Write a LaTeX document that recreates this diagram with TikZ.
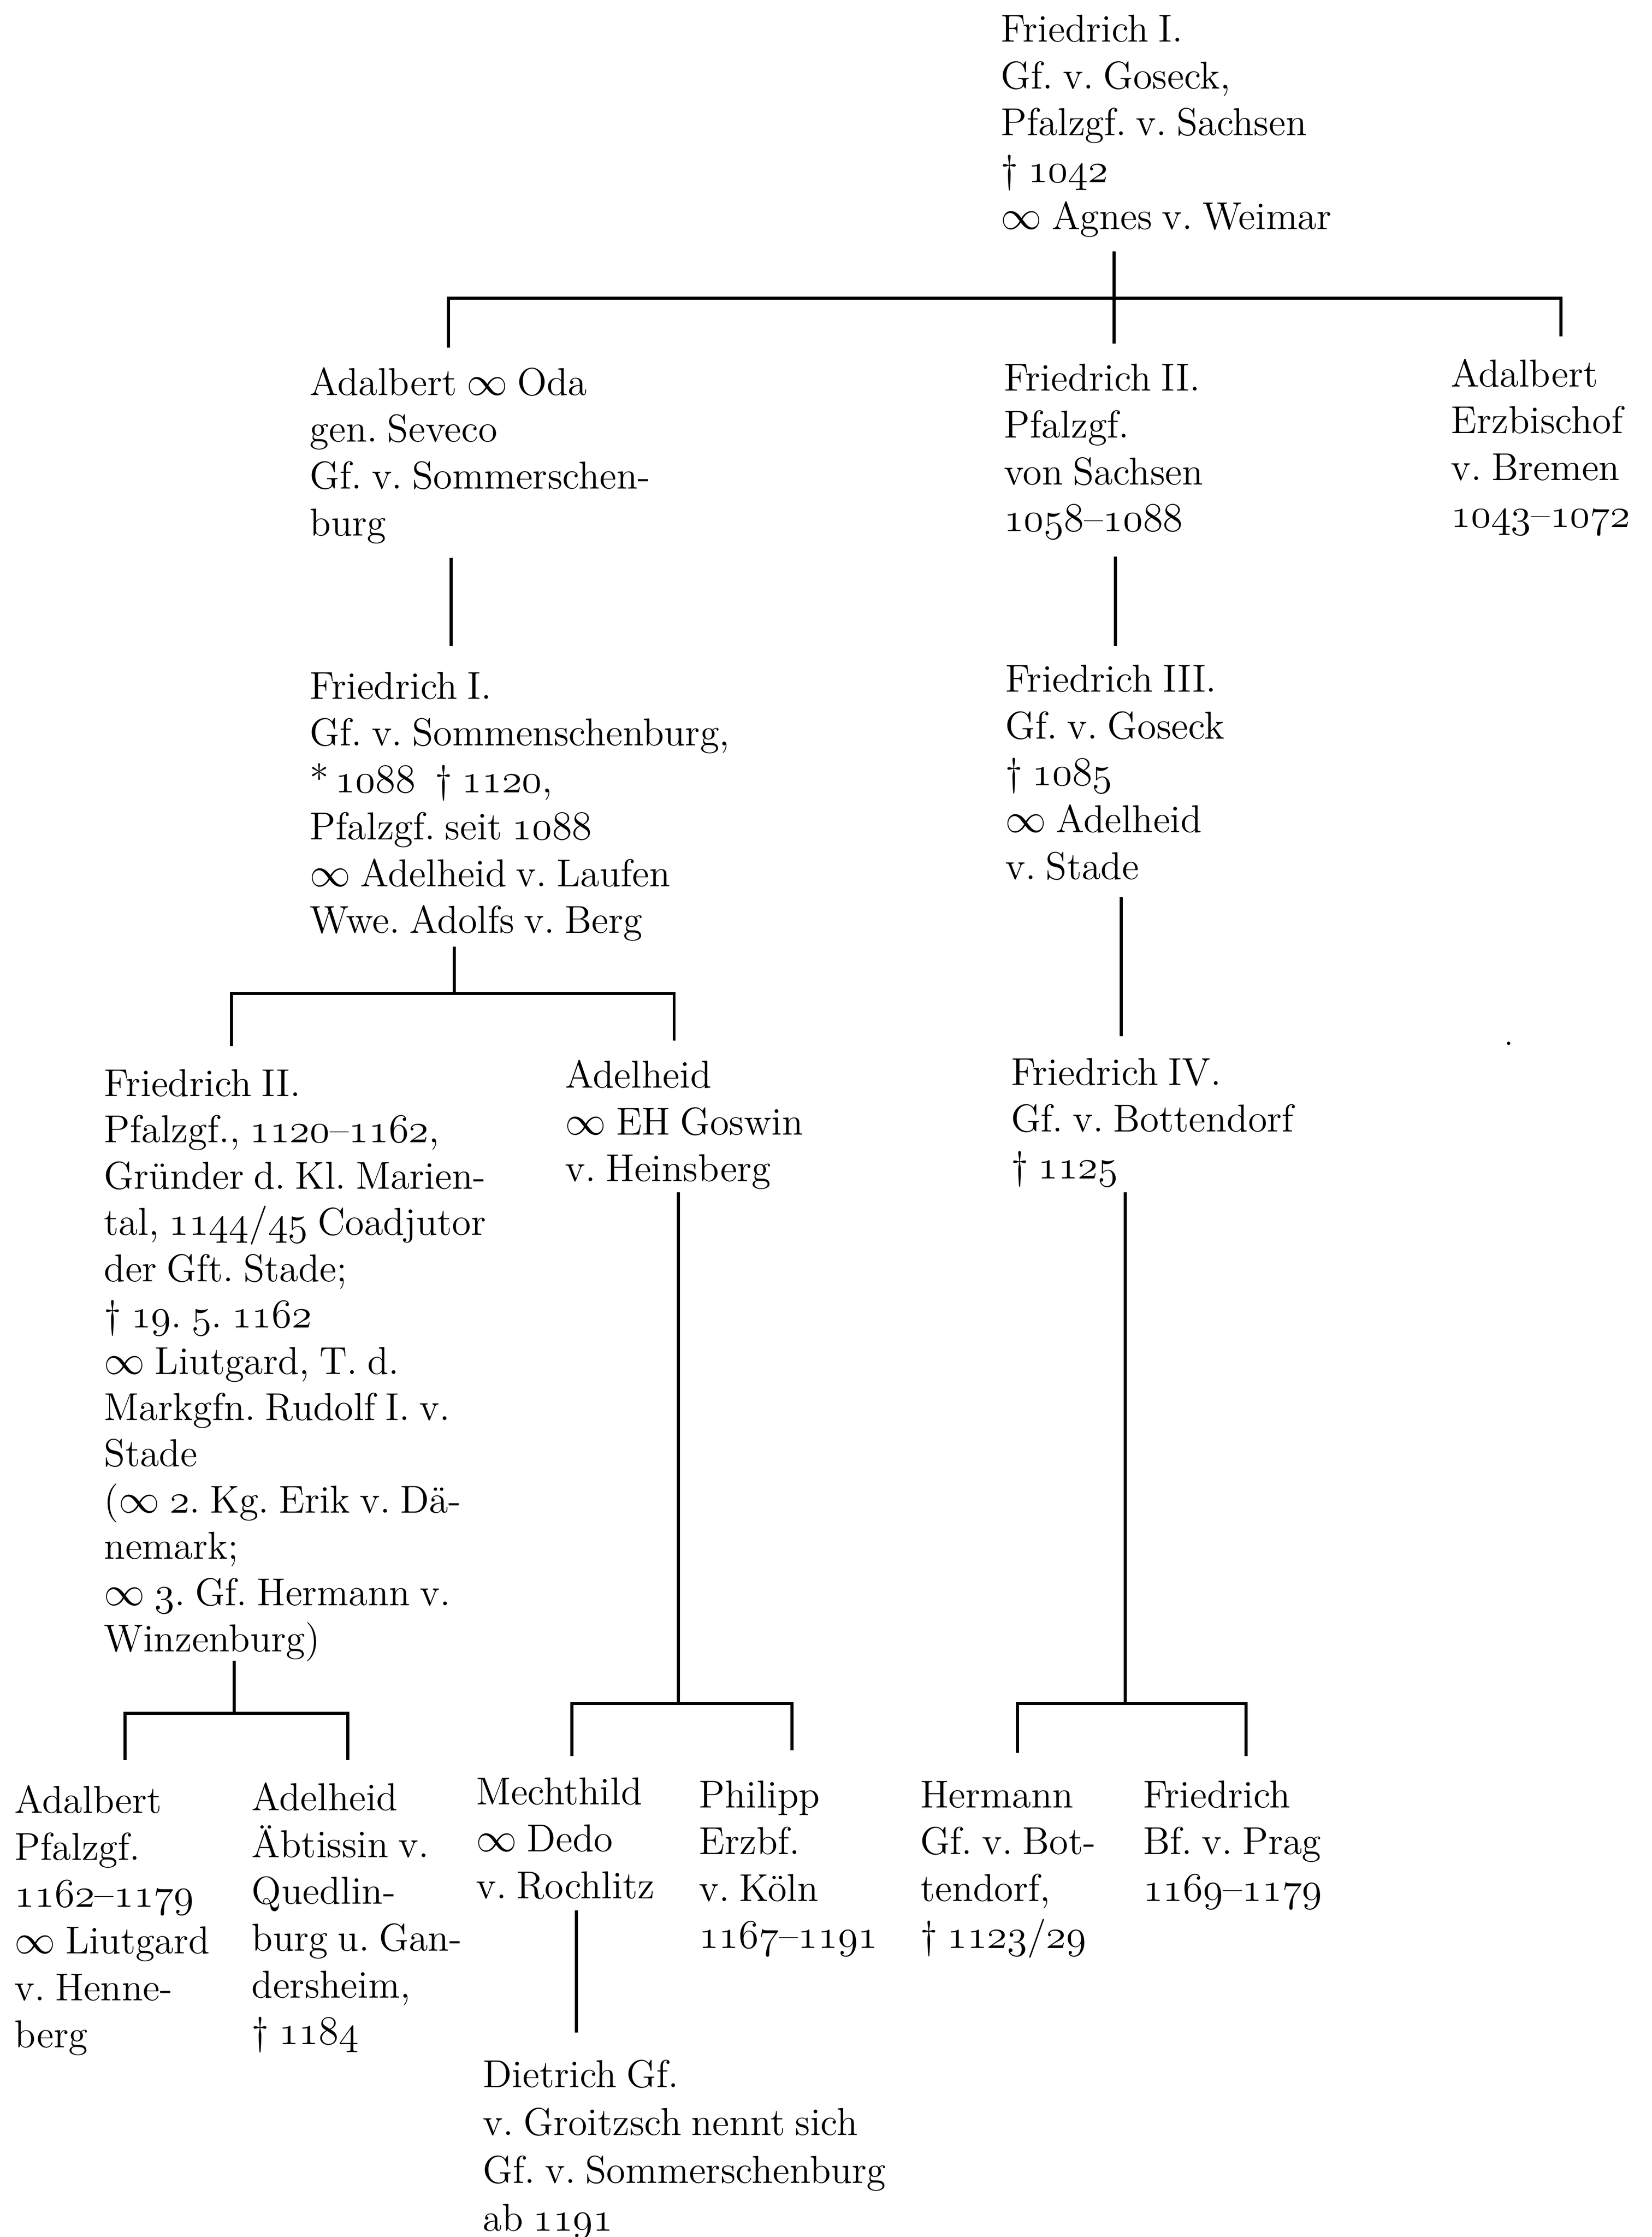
\documentclass[tikz,border=0pt]{standalone}
\usepackage{fontspec}
\newcommand{\osn}[1]{{\usefont{OML}{cmm}{m}{it}#1}}
\newcommand{\marr}{$\infty$}
\newcommand{\tightsp}{\frenchspacing\spaceskip=0.25em plus 0.05em\relax}
\newcommand{\nfont}{\fontsize{13.7pt}{16.5pt}\selectfont\tightsp}
\newcommand{\nfontH}{\fontsize{13.7pt}{16.3pt}\selectfont\tightsp}
\newcommand{\nfontP}{\fontsize{13.7pt}{16.9pt}\selectfont\tightsp}
\tikzset{
  person/.style={anchor=north west, inner sep=0pt, align=left, font=\nfont},
  tline/.style={line width=1.1pt},
}
\begin{document}
\begin{tikzpicture}[x=0.5pt,y=-0.5pt]
\useasboundingbox (0,0) rectangle (1164,1576);
\node[person] (A) at (705,5) {\rule{0pt}{12pt}Friedrich I.\\Gf. v. Goseck,\\Pfalzgf. v. Sachsen\\† \osn{1042}\\\marr\ Agnes v. Weimar};
\node[person] (B) at (218,254) {\rule{0pt}{12pt}Adalbert \marr\ Oda\\gen. Seveco\\Gf. v. Sommerschen-\\burg};
\node[person] (C) at (707,251) {\rule{0pt}{12pt}Friedrich II.\\Pfalzgf.\\von Sachsen\\\osn{1058}–\osn{1088}};
\node[person] (D) at (1022,248) {\rule{0pt}{12pt}Adalbert\\Erzbischof\\v. Bremen\\\osn{1043}–\osn{1072}};
\node[person] (E) at (218,468) {\rule{0pt}{12pt}Friedrich I.\\Gf. v. Sommenschenburg,\\{*}\,\osn{1088}\ \ † \osn{1120},\\Pfalzgf. seit \osn{1088}\\\marr\ Adelheid v. Laufen\\Wwe. Adolfs v. Berg};
\node[person] (F) at (708,463) {\rule{0pt}{12pt}Friedrich III.\\Gf. v. Goseck\\† \osn{1085}\\\marr\ Adelheid\\v. Stade};
\node[person] (G) at (712,740) {\rule{0pt}{12pt}Friedrich IV.\\Gf. v. Bottendorf\\† \osn{1125}};
\node[person, font=\nfontH] (H) at (73,748) {\rule{0pt}{12pt}Friedrich II.\\Pfalzgf., \osn{1120}–\osn{1162},\\Gründer d. Kl. Marien-\\tal, \osn{1144}/\osn{45} Coadjutor\\der Gft. Stade;\\† \osn{19}. \osn{5}. \osn{1162}\\\marr\ Liutgard, T. d.\\Markgfn. Rudolf I. v.\\Stade\\(\marr\ \osn{2}. Kg. Erik v. Dä-\\nemark;\\\marr\ \osn{3}. Gf. Hermann v.\\Winzenburg)};
\node[person] (I) at (398,742) {\rule{0pt}{12pt}Adelheid\\\marr\ EH Goswin\\v. Heinsberg};
\node[person] (J) at (10,1253) {\rule{0pt}{12pt}Adalbert\\Pfalzgf.\\\osn{1162}–\osn{1179}\\\marr\ Liutgard\\v. Henne-\\berg};
\node[person] (K) at (177,1251) {\rule{0pt}{12pt}Adelheid\\Äbtissin v.\\Quedlin-\\burg u. Gan-\\dersheim,\\† \osn{1184}};
\node[person] (L) at (335,1247) {\rule{0pt}{12pt}Mechthild\\\marr\ Dedo\\v. Rochlitz};
\node[person] (M) at (492,1249) {\rule{0pt}{12pt}Philipp\\Erzbf.\\v. Köln\\\osn{1167}–\osn{1191}};
\node[person] (N) at (648,1249) {\rule{0pt}{12pt}Hermann\\Gf. v. Bot-\\tendorf,\\† \osn{1123}/\osn{29}};
\node[person] (O) at (805,1249) {\rule{0pt}{12pt}Friedrich\\Bf. v. Prag\\\osn{1169}–\osn{1179}};
\node[person, font=\nfontP] (P) at (340,1446) {\rule{0pt}{12pt}Dietrich Gf.\\v. Groitzsch nennt sich\\Gf. v. Sommerschenburg\\ab \osn{1191}};
% fork 1
\coordinate (A-out) at (785,177);
\coordinate (A-bar) at (785,210);
\coordinate (B-in) at (316,245);
\coordinate (C-in) at (785,242);
\coordinate (D-in) at (1100,237);
\draw[tline] (A-out) -- (C-in);
\draw[tline] (B-in) |- (A-bar) -| (D-in);
% chains
\coordinate (B-out) at (318,393); \coordinate (E-in) at (318,455);
\draw[tline] (B-out) -- (E-in);
\coordinate (C-out) at (786,392); \coordinate (F-in) at (786,455);
\draw[tline] (C-out) -- (F-in);
\coordinate (F-out) at (790,632); \coordinate (G-in) at (790,730);
\draw[tline] (F-out) -- (G-in);
% fork 2
\coordinate (E-out) at (320,667); \coordinate (E-bar) at (320,700);
\coordinate (H-in) at (163,737); \coordinate (I-in) at (475,733);
\draw[tline] (E-out) -- (E-bar);
\draw[tline] (H-in) |- (E-bar) -| (I-in);
% fork 3
\coordinate (H-out) at (165,1170); \coordinate (H-bar) at (165,1207);
\coordinate (J-in) at (88,1240); \coordinate (K-in) at (245,1240);
\draw[tline] (H-out) -- (H-bar);
\draw[tline] (J-in) |- (H-bar) -| (K-in);
% fork 4
\coordinate (I-out) at (478,840); \coordinate (I-bar) at (478,1200);
\coordinate (L-in) at (403,1237); \coordinate (M-in) at (558,1233);
\draw[tline] (I-out) -- (I-bar);
\draw[tline] (L-in) |- (I-bar) -| (M-in);
% fork 5
\coordinate (G-out) at (793,840); \coordinate (G-bar) at (793,1200);
\coordinate (N-in) at (717,1235); \coordinate (O-in) at (878,1237);
\draw[tline] (G-out) -- (G-bar);
\draw[tline] (N-in) |- (G-bar) -| (O-in);
% chain L-P
\coordinate (L-out) at (406,1346); \coordinate (P-in) at (406,1432);
\draw[tline] (L-out) -- (P-in);
% speck
\fill (1063,735) circle (1.2);
\end{tikzpicture}
\end{document}
